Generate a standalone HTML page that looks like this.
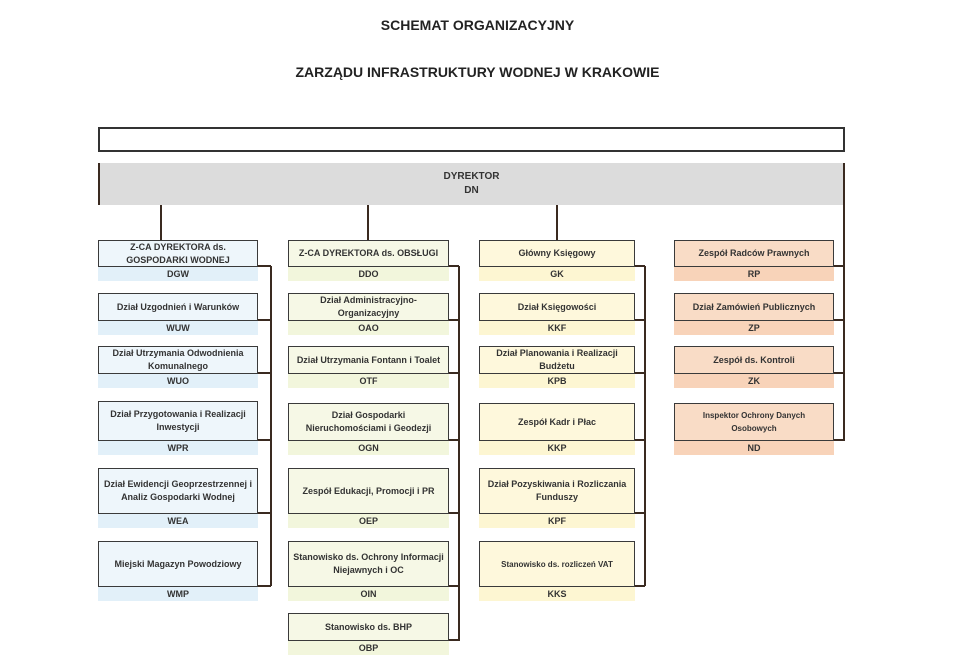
<!DOCTYPE html>
<html><head><meta charset="utf-8"><style>
body{margin:0;width:955px;height:663px;background:#fff;position:relative;overflow:hidden;font-family:"Liberation Sans",sans-serif;}
.t{position:absolute;left:0;width:955px;text-align:center;font-weight:bold;font-size:14px;color:#222;}
.b{position:absolute;box-sizing:border-box;border:1.5px solid #3a3a3a;display:flex;align-items:center;justify-content:center;text-align:center;font-size:9px;font-weight:bold;color:#333;line-height:13px;padding:0 2px;}
.s{position:absolute;height:14px;font-size:9px;font-weight:bold;color:#333;text-align:center;line-height:14px;}
.l{position:absolute;background:#3a2a20;}
.c1{background:#eef6fb}.s1{background:#e2f0f9}
.c2{background:#f6f8e6}.s2{background:#f2f6dc}
.c3{background:#fef8dc}.s3{background:#fdf6d2}
.c4{background:#f9dcc6}.s4{background:#f8d3b9}
</style></head><body>
<div class="t" style="top:17px">SCHEMAT ORGANIZACYJNY</div>
<div class="t" style="top:64px">ZARZĄDU INFRASTRUKTURY WODNEJ W KRAKOWIE</div>
<div style="position:absolute;left:98px;top:127px;width:747px;height:25px;box-sizing:border-box;border:2px solid #333;"></div>
<div style="position:absolute;left:98px;top:163px;width:747px;height:42px;background:#dcdcdc;text-align:center;font-size:10px;font-weight:bold;color:#333;line-height:14px;padding-top:7px;box-sizing:border-box;">DYREKTOR<br>DN</div>
<div class="l" style="left:98px;top:163px;width:1.5px;height:42px"></div>
<div class="l" style="left:843px;top:163px;width:1.5px;height:42px"></div>
<div class="l" style="left:160px;top:205px;width:1.5px;height:35px"></div>
<div class="l" style="left:367px;top:205px;width:1.5px;height:35px"></div>
<div class="l" style="left:556px;top:205px;width:1.5px;height:35px"></div>
<div class="l" style="left:843px;top:205px;width:1.5px;height:236px"></div>
<div class="l" style="left:270px;top:266px;width:1.5px;height:320px"></div>
<div class="l" style="left:458px;top:266px;width:1.5px;height:375px"></div>
<div class="l" style="left:644px;top:266px;width:1.5px;height:320px"></div>

<!-- col1 -->
<div class="b c1" style="left:98px;top:240px;width:160px;height:27px">Z-CA DYREKTORA ds.<br>GOSPODARKI WODNEJ</div><div class="s s1" style="left:98px;top:267px;width:160px">DGW</div><div class="l" style="left:258px;top:265px;width:13px;height:1.5px"></div>
<div class="b c1" style="left:98px;top:293px;width:160px;height:28px">Dział Uzgodnień i Warunków</div><div class="s s1" style="left:98px;top:321px;width:160px">WUW</div><div class="l" style="left:258px;top:319px;width:13px;height:1.5px"></div>
<div class="b c1" style="left:98px;top:346px;width:160px;height:28px">Dział Utrzymania Odwodnienia Komunalnego</div><div class="s s1" style="left:98px;top:374px;width:160px">WUO</div><div class="l" style="left:258px;top:372px;width:13px;height:1.5px"></div>
<div class="b c1" style="left:98px;top:401px;width:160px;height:40px">Dział Przygotowania i Realizacji Inwestycji</div><div class="s s1" style="left:98px;top:441px;width:160px">WPR</div><div class="l" style="left:258px;top:439px;width:13px;height:1.5px"></div>
<div class="b c1" style="left:98px;top:468px;width:160px;height:46px">Dział Ewidencji Geoprzestrzennej i Analiz Gospodarki Wodnej</div><div class="s s1" style="left:98px;top:514px;width:160px">WEA</div><div class="l" style="left:258px;top:512px;width:13px;height:1.5px"></div>
<div class="b c1" style="left:98px;top:541px;width:160px;height:46px">Miejski Magazyn Powodziowy</div><div class="s s1" style="left:98px;top:587px;width:160px">WMP</div><div class="l" style="left:258px;top:585px;width:13px;height:1.5px"></div>

<!-- col2 -->
<div class="b c2" style="left:288px;top:240px;width:161px;height:27px">Z-CA DYREKTORA ds. OBSŁUGI</div><div class="s s2" style="left:288px;top:267px;width:161px">DDO</div><div class="l" style="left:449px;top:265px;width:10px;height:1.5px"></div>
<div class="b c2" style="left:288px;top:293px;width:161px;height:28px">Dział Administracyjno-Organizacyjny</div><div class="s s2" style="left:288px;top:321px;width:161px">OAO</div><div class="l" style="left:449px;top:319px;width:10px;height:1.5px"></div>
<div class="b c2" style="left:288px;top:346px;width:161px;height:28px">Dział Utrzymania Fontann i Toalet</div><div class="s s2" style="left:288px;top:374px;width:161px">OTF</div><div class="l" style="left:449px;top:372px;width:10px;height:1.5px"></div>
<div class="b c2" style="left:288px;top:403px;width:161px;height:38px">Dział Gospodarki Nieruchomościami i Geodezji</div><div class="s s2" style="left:288px;top:441px;width:161px">OGN</div><div class="l" style="left:449px;top:439px;width:10px;height:1.5px"></div>
<div class="b c2" style="left:288px;top:468px;width:161px;height:46px">Zespół Edukacji, Promocji i PR</div><div class="s s2" style="left:288px;top:514px;width:161px">OEP</div><div class="l" style="left:449px;top:512px;width:10px;height:1.5px"></div>
<div class="b c2" style="left:288px;top:541px;width:161px;height:46px">Stanowisko ds. Ochrony Informacji Niejawnych i OC</div><div class="s s2" style="left:288px;top:587px;width:161px">OIN</div><div class="l" style="left:449px;top:585px;width:10px;height:1.5px"></div>
<div class="b c2" style="left:288px;top:613px;width:161px;height:28px">Stanowisko ds. BHP</div><div class="s s2" style="left:288px;top:641px;width:161px">OBP</div><div class="l" style="left:449px;top:639px;width:10px;height:1.5px"></div>

<!-- col3 -->
<div class="b c3" style="left:479px;top:240px;width:156px;height:27px">Główny Księgowy</div><div class="s s3" style="left:479px;top:267px;width:156px">GK</div><div class="l" style="left:635px;top:265px;width:10px;height:1.5px"></div>
<div class="b c3" style="left:479px;top:293px;width:156px;height:28px">Dział Księgowości</div><div class="s s3" style="left:479px;top:321px;width:156px">KKF</div><div class="l" style="left:635px;top:319px;width:10px;height:1.5px"></div>
<div class="b c3" style="left:479px;top:346px;width:156px;height:28px">Dział Planowania i Realizacji Budżetu</div><div class="s s3" style="left:479px;top:374px;width:156px">KPB</div><div class="l" style="left:635px;top:372px;width:10px;height:1.5px"></div>
<div class="b c3" style="left:479px;top:403px;width:156px;height:38px">Zespół Kadr i Płac</div><div class="s s3" style="left:479px;top:441px;width:156px">KKP</div><div class="l" style="left:635px;top:439px;width:10px;height:1.5px"></div>
<div class="b c3" style="left:479px;top:468px;width:156px;height:46px">Dział Pozyskiwania i Rozliczania Funduszy</div><div class="s s3" style="left:479px;top:514px;width:156px">KPF</div><div class="l" style="left:635px;top:512px;width:10px;height:1.5px"></div>
<div class="b c3" style="left:479px;top:541px;width:156px;height:46px;font-size:8px">Stanowisko ds. rozliczeń VAT</div><div class="s s3" style="left:479px;top:587px;width:156px">KKS</div><div class="l" style="left:635px;top:585px;width:10px;height:1.5px"></div>

<!-- col4 -->
<div class="b c4" style="left:674px;top:240px;width:160px;height:27px">Zespół Radców Prawnych</div><div class="s s4" style="left:674px;top:267px;width:160px">RP</div><div class="l" style="left:834px;top:265px;width:10px;height:1.5px"></div>
<div class="b c4" style="left:674px;top:293px;width:160px;height:28px">Dział Zamówień Publicznych</div><div class="s s4" style="left:674px;top:321px;width:160px">ZP</div><div class="l" style="left:834px;top:319px;width:10px;height:1.5px"></div>
<div class="b c4" style="left:674px;top:346px;width:160px;height:28px">Zespół ds. Kontroli</div><div class="s s4" style="left:674px;top:374px;width:160px">ZK</div><div class="l" style="left:834px;top:372px;width:10px;height:1.5px"></div>
<div class="b c4" style="left:674px;top:403px;width:160px;height:38px;font-size:8px;padding:0 20px">Inspektor Ochrony Danych Osobowych</div><div class="s s4" style="left:674px;top:441px;width:160px">ND</div><div class="l" style="left:834px;top:439px;width:10px;height:1.5px"></div>
</body></html>
